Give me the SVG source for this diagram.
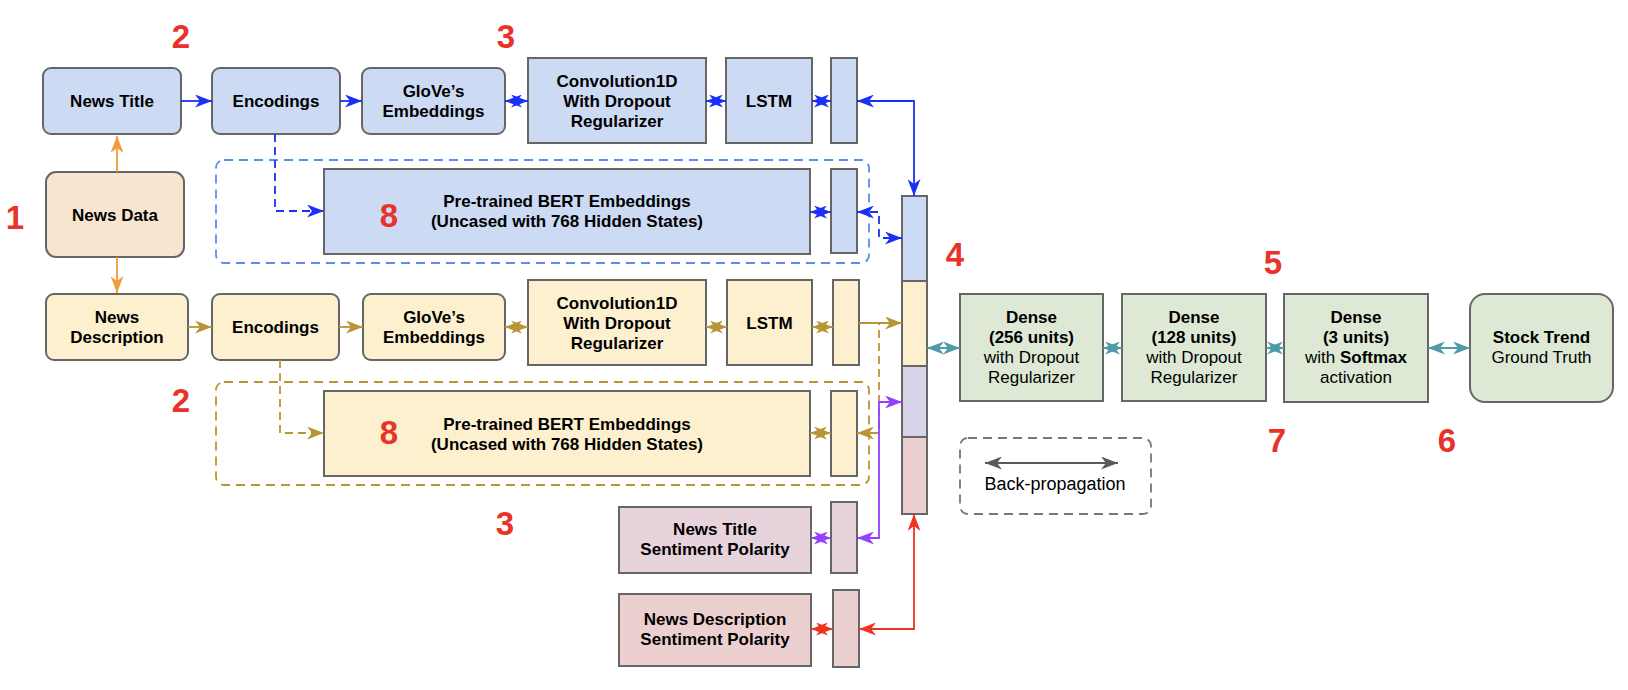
<svg xmlns="http://www.w3.org/2000/svg" width="1628" height="690" viewBox="0 0 1628 690">
<style>
text{font-family:"Liberation Sans",Arial,sans-serif;font-size:17px;fill:#000;text-anchor:middle}
.b{font-weight:bold}
.num{font-size:33px;font-weight:bold;fill:#e8322a}
.box{stroke:#666;stroke-width:2}
.blue{fill:#ccdaf4}.yel{fill:#fdf0cf}.grn{fill:#dde9d5}.org{fill:#f8e5cf}.mau{fill:#e6d3dc}.pnk{fill:#eccfcf}.lav{fill:#d7d4e8}
.c{fill:none;stroke-width:1.8}
.cb{stroke:#1a30f5}.cg{stroke:#b99535}.co{stroke:#f29b38}.cp{stroke:#9340ff}.cr{stroke:#ee3322}.ct{stroke:#4e9aa6}.cy{stroke:#5a5a5a}
.d{stroke-dasharray:8 5}
.grp{fill:none;stroke-width:1.8;stroke-dasharray:9 6}
</style>
<defs>
<marker id="mb" viewBox="0 0 17 13" refX="17" refY="6.5" markerWidth="17" markerHeight="13" markerUnits="userSpaceOnUse" orient="auto-start-reverse"><path d="M0,0 L17,6.5 L0,13 L5,6.5 Z" fill="#1a30f5" stroke="none"/></marker>
<marker id="mg" viewBox="0 0 17 13" refX="17" refY="6.5" markerWidth="17" markerHeight="13" markerUnits="userSpaceOnUse" orient="auto-start-reverse"><path d="M0,0 L17,6.5 L0,13 L5,6.5 Z" fill="#b99535" stroke="none"/></marker>
<marker id="mo" viewBox="0 0 17 13" refX="17" refY="6.5" markerWidth="17" markerHeight="13" markerUnits="userSpaceOnUse" orient="auto-start-reverse"><path d="M0,0 L17,6.5 L0,13 L5,6.5 Z" fill="#f29b38" stroke="none"/></marker>
<marker id="mp" viewBox="0 0 17 13" refX="17" refY="6.5" markerWidth="17" markerHeight="13" markerUnits="userSpaceOnUse" orient="auto-start-reverse"><path d="M0,0 L17,6.5 L0,13 L5,6.5 Z" fill="#9340ff" stroke="none"/></marker>
<marker id="mr" viewBox="0 0 17 13" refX="17" refY="6.5" markerWidth="17" markerHeight="13" markerUnits="userSpaceOnUse" orient="auto-start-reverse"><path d="M0,0 L17,6.5 L0,13 L5,6.5 Z" fill="#ee3322" stroke="none"/></marker>
<marker id="mt" viewBox="0 0 17 13" refX="17" refY="6.5" markerWidth="17" markerHeight="13" markerUnits="userSpaceOnUse" orient="auto-start-reverse"><path d="M0,0 L17,6.5 L0,13 L5,6.5 Z" fill="#4e9aa6" stroke="none"/></marker>
<marker id="my" viewBox="0 0 17 13" refX="17" refY="6.5" markerWidth="17" markerHeight="13" markerUnits="userSpaceOnUse" orient="auto-start-reverse"><path d="M0,0 L17,6.5 L0,13 L5,6.5 Z" fill="#5a5a5a" stroke="none"/></marker>
</defs>
<rect width="1628" height="690" fill="#fff"/>

<!-- group outlines -->
<g id="bert-title-group"><rect x="216" y="160" width="653" height="103" rx="8" class="grp" stroke="#5b8def"/></g>
<g id="bert-desc-group"><rect x="216" y="382" width="653" height="103" rx="8" class="grp" stroke="#b99535"/></g>
<g id="legend"><rect x="960" y="438" width="191" height="76" rx="8" class="grp" stroke="#777"/>
<text x="1055" y="490" style="font-size:18px">Back-propagation</text></g>

<!-- row 1 -->
<g id="news-title"><rect x="43" y="68" width="138" height="66" rx="8" class="box blue"/><text x="112" y="107" class="b">News Title</text></g>
<g id="enc1"><rect x="212" y="68" width="128" height="66" rx="8" class="box blue"/><text x="276" y="107" class="b">Encodings</text></g>
<g id="glove1"><rect x="362" y="68" width="143" height="66" rx="8" class="box blue"/><text x="433.5" y="97" class="b">GloVe’s</text><text x="433.5" y="117" class="b">Embeddings</text></g>
<g id="conv1"><rect x="528" y="58" width="178" height="85" class="box blue"/><text x="617" y="86.5" class="b">Convolution1D</text><text x="617" y="106.5" class="b">With Dropout</text><text x="617" y="126.5" class="b">Regularizer</text></g>
<g id="lstm1"><rect x="726" y="58" width="86" height="85" class="box blue"/><text x="769" y="107" class="b">LSTM</text></g>
<g id="bar1"><rect x="831" y="58" width="26" height="85" class="box blue"/></g>
<g id="bert1"><rect x="324" y="169" width="486" height="85" class="box blue"/><text x="567" y="207" class="b">Pre-trained BERT Embeddings</text><text x="567" y="227" class="b">(Uncased with 768 Hidden States)</text></g>
<g id="bertbar1"><rect x="831" y="169" width="26" height="84" class="box blue"/></g>

<!-- news data -->
<g id="news-data"><rect x="46" y="172" width="138" height="85" rx="10" class="box org"/><text x="115" y="221" class="b">News Data</text></g>

<!-- row 2 -->
<g id="news-desc"><rect x="46" y="294" width="142" height="66" rx="8" class="box yel"/><text x="117" y="323" class="b">News</text><text x="117" y="343" class="b">Description</text></g>
<g id="enc2"><rect x="212" y="294" width="127" height="66" rx="8" class="box yel"/><text x="275.5" y="333" class="b">Encodings</text></g>
<g id="glove2"><rect x="363" y="294" width="142" height="66" rx="8" class="box yel"/><text x="434" y="323" class="b">GloVe’s</text><text x="434" y="343" class="b">Embeddings</text></g>
<g id="conv2"><rect x="528" y="280" width="178" height="85" class="box yel"/><text x="617" y="308.5" class="b">Convolution1D</text><text x="617" y="328.5" class="b">With Dropout</text><text x="617" y="348.5" class="b">Regularizer</text></g>
<g id="lstm2"><rect x="727" y="280" width="85" height="85" class="box yel"/><text x="769.5" y="329" class="b">LSTM</text></g>
<g id="bar2"><rect x="833" y="280" width="26" height="85" class="box yel"/></g>
<g id="bert2"><rect x="324" y="391" width="486" height="85" class="box yel"/><text x="567" y="430" class="b">Pre-trained BERT Embeddings</text><text x="567" y="450" class="b">(Uncased with 768 Hidden States)</text></g>
<g id="bertbar2"><rect x="831" y="391" width="26" height="85" class="box yel"/></g>

<!-- sentiment -->
<g id="sent-title"><rect x="619" y="507" width="192" height="66" class="box mau"/><text x="715" y="535" class="b">News Title</text><text x="715" y="555" class="b">Sentiment Polarity</text></g>
<g id="bar3"><rect x="831" y="502" width="26" height="71" class="box mau"/></g>
<g id="sent-desc"><rect x="619" y="594" width="192" height="72" class="box pnk"/><text x="715" y="625" class="b">News Description</text><text x="715" y="645" class="b">Sentiment Polarity</text></g>
<g id="bar4"><rect x="833" y="590" width="26" height="77" class="box pnk"/></g>

<!-- concat -->
<g id="concat">
<rect x="902" y="196" width="25" height="85" class="box blue"/>
<rect x="902" y="281" width="25" height="85" class="box yel"/>
<rect x="902" y="366" width="25" height="71" class="box lav"/>
<rect x="902" y="437" width="25" height="77" class="box pnk"/>
</g>

<!-- dense -->
<g id="dense1"><rect x="960" y="294" width="143" height="107" class="box grn"/><text x="1031.5" y="323" class="b">Dense</text><text x="1031.5" y="343" class="b">(256 units)</text><text x="1031.5" y="363">with Dropout</text><text x="1031.5" y="383">Regularizer</text></g>
<g id="dense2"><rect x="1122" y="294" width="144" height="107" class="box grn"/><text x="1194" y="323" class="b">Dense</text><text x="1194" y="343" class="b">(128 units)</text><text x="1194" y="363">with Dropout</text><text x="1194" y="383">Regularizer</text></g>
<g id="dense3"><rect x="1284" y="294" width="144" height="108" class="box grn"/><text x="1356" y="323" class="b">Dense</text><text x="1356" y="343" class="b">(3 units)</text><text x="1356" y="363">with <tspan class="b">Softmax</tspan></text><text x="1356" y="383">activation</text></g>
<g id="stock"><rect x="1470" y="294" width="143" height="108" rx="15" class="box grn"/><text x="1541.5" y="343" class="b">Stock Trend</text><text x="1541.5" y="363">Ground Truth</text></g>

<!-- connectors -->
<g id="connectors">
<path d="M117,172 V136" class="c co" marker-end="url(#mo)"/>
<path d="M117,257 V293" class="c co" marker-end="url(#mo)"/>
<path d="M181,101 H212" class="c cb" marker-end="url(#mb)"/>
<path d="M340,101 H362" class="c cb" marker-end="url(#mb)"/>
<path d="M505,101 H528" class="c cb" marker-start="url(#mb)" marker-end="url(#mb)"/>
<path d="M706,101 H726" class="c cb" marker-start="url(#mb)" marker-end="url(#mb)"/>
<path d="M812,101 H831" class="c cb" marker-start="url(#mb)" marker-end="url(#mb)"/>
<path d="M857,101 H914 V196" class="c cb" marker-start="url(#mb)" marker-end="url(#mb)"/>
<path d="M275,134 V211 H324" class="c cb d" marker-end="url(#mb)"/>
<path d="M810,212 H831" class="c cb" marker-start="url(#mb)" marker-end="url(#mb)"/>
<path d="M857,212 H879 V238 H902" class="c cb d" marker-start="url(#mb)" marker-end="url(#mb)"/>

<path d="M188,327 H212" class="c cg" marker-end="url(#mg)"/>
<path d="M339,327 H363" class="c cg" marker-end="url(#mg)"/>
<path d="M505,327 H528" class="c cg" marker-start="url(#mg)" marker-end="url(#mg)"/>
<path d="M706,327 H727" class="c cg" marker-start="url(#mg)" marker-end="url(#mg)"/>
<path d="M812,327 H833" class="c cg" marker-start="url(#mg)" marker-end="url(#mg)"/>
<path d="M857,433 H879 V323" class="c cg d" marker-start="url(#mg)"/>
<path d="M859,323 H902" class="c cg" marker-end="url(#mg)"/>
<path d="M280,360 V433 H324" class="c cg d" marker-end="url(#mg)"/>
<path d="M810,433 H831" class="c cg" marker-start="url(#mg)" marker-end="url(#mg)"/>

<path d="M857,538 H879 V402 H902" class="c cp" marker-start="url(#mp)" marker-end="url(#mp)"/>
<path d="M811,538 H831" class="c cp" marker-start="url(#mp)" marker-end="url(#mp)"/>
<path d="M811,629 H833" class="c cr" marker-start="url(#mr)" marker-end="url(#mr)"/>
<path d="M859,629 H914 V514" class="c cr" marker-start="url(#mr)" marker-end="url(#mr)"/>

<path d="M927,348 H960" class="c ct" marker-start="url(#mt)" marker-end="url(#mt)"/>
<path d="M1103,348 H1122" class="c ct" marker-start="url(#mt)" marker-end="url(#mt)"/>
<path d="M1266,348 H1284" class="c ct" marker-start="url(#mt)" marker-end="url(#mt)"/>
<path d="M1428,348 H1470" class="c ct" marker-start="url(#mt)" marker-end="url(#mt)"/>

<path d="M985,463 H1118" class="c cy" marker-start="url(#my)" marker-end="url(#my)"/>
</g>

<!-- step numbers -->
<g id="labels">
<text x="15" y="229" class="num">1</text>
<text x="181" y="48" class="num">2</text>
<text x="506" y="48" class="num">3</text>
<text x="389" y="227" class="num">8</text>
<text x="389" y="444" class="num">8</text>
<text x="181" y="412" class="num">2</text>
<text x="505" y="535" class="num">3</text>
<text x="955" y="266" class="num">4</text>
<text x="1273" y="274" class="num">5</text>
<text x="1277" y="452" class="num">7</text>
<text x="1447" y="452" class="num">6</text>
</g>
</svg>
